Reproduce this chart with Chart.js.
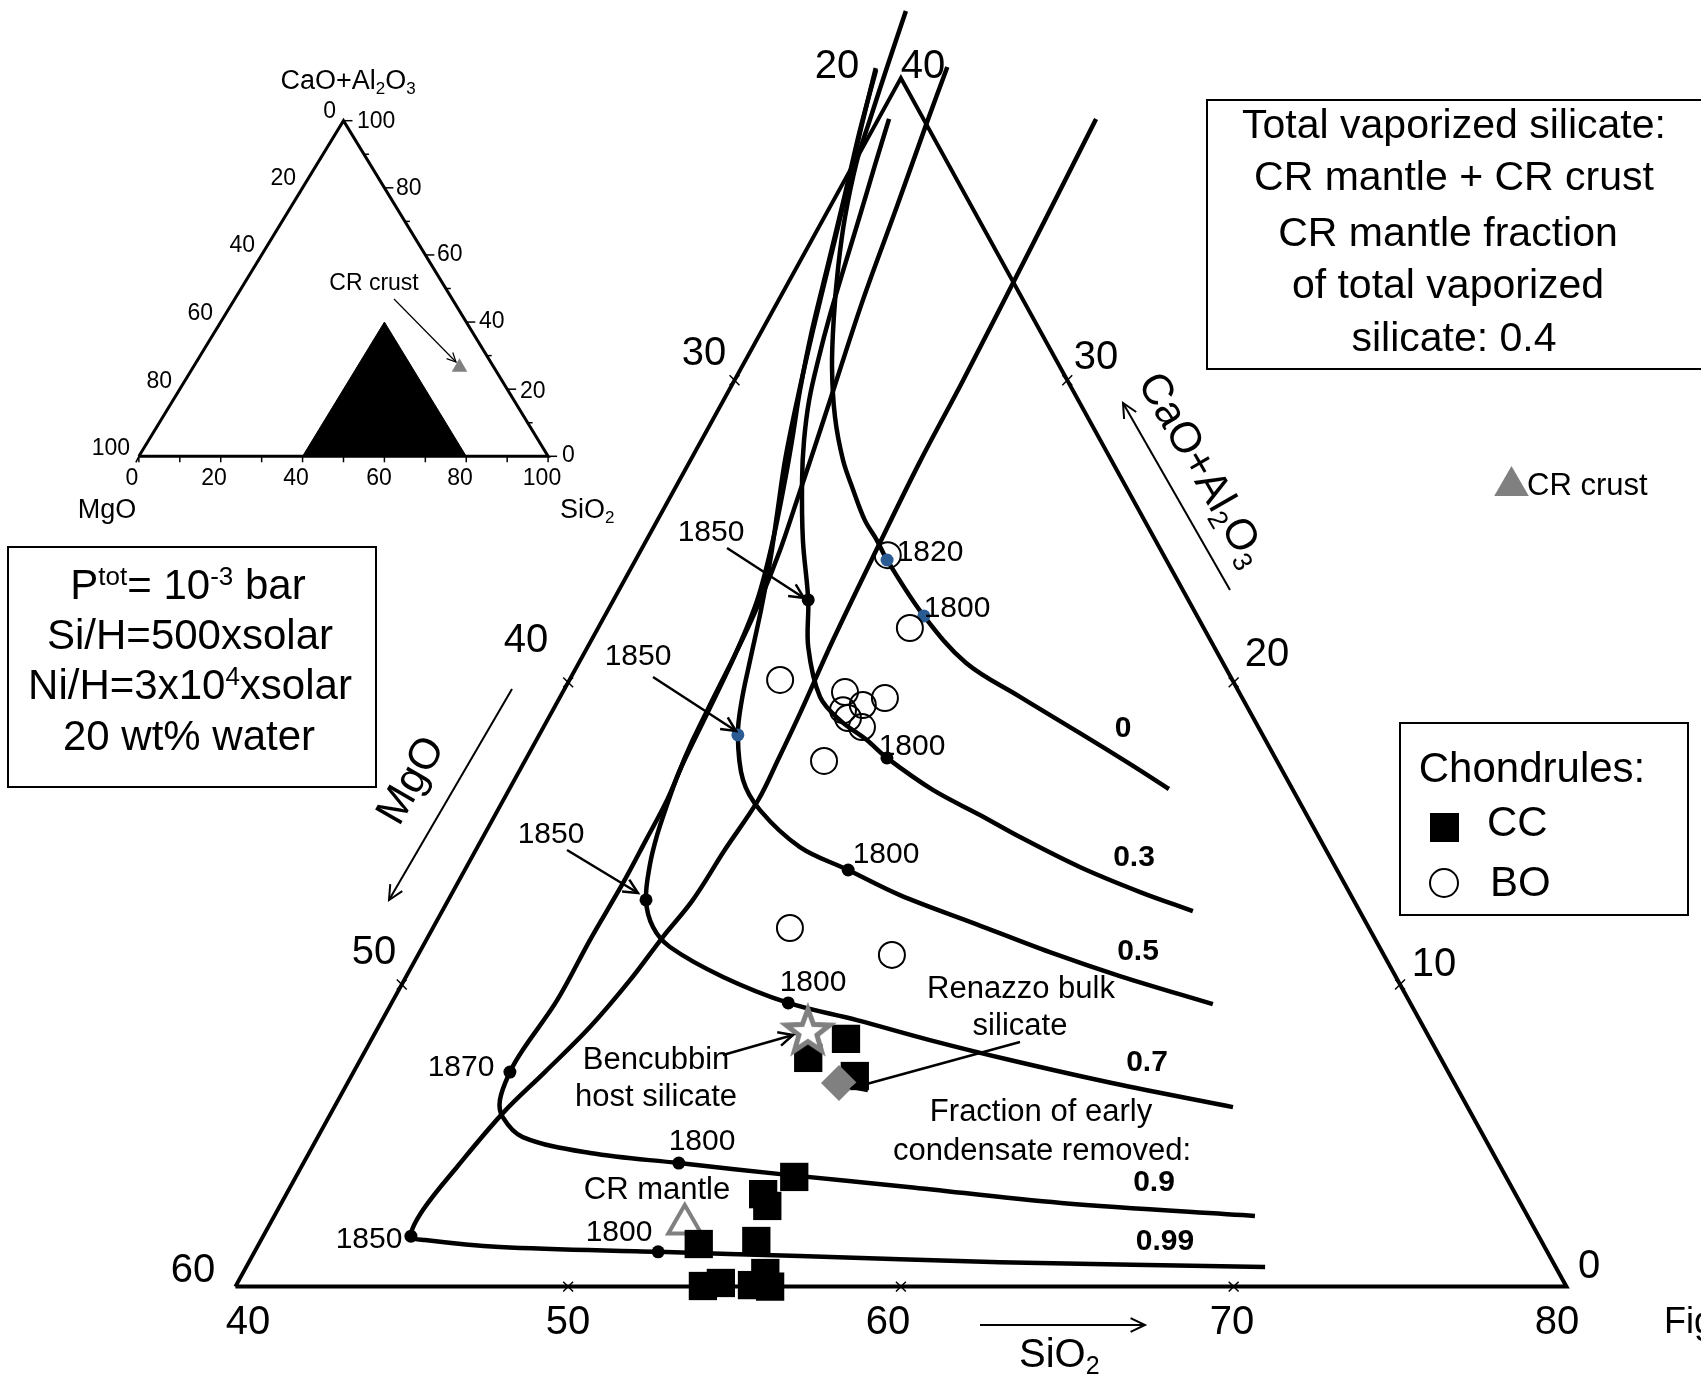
<!DOCTYPE html>
<html>
<head>
<meta charset="utf-8">
<title>Condensation paths in CaO+Al2O3 - MgO - SiO2</title>
<script src="https://cdn.jsdelivr.net/npm/chart.js@4.4.1/dist/chart.umd.min.js"></script>
<style>
  html, body { margin: 0; padding: 0; background: #fff; overflow: hidden; }
  canvas { display: block; }
</style>
</head>
<body>
<canvas id="myChart" width="1701" height="1383"></canvas>
<script>
var H = Math.sqrt(3) / 2;

// all compositions are wt% [SiO2, CaO+Al2O3]; MgO is the rest
var frame = [[40, 0], [80, 0], [40, 40], [40, 0]];
var frameTicks = [[50, 0], [60, 0], [70, 0], [40, 10], [40, 20], [40, 30], [70, 10], [60, 20], [50, 30]];

// condensation paths, by fraction of early condensate removed
var fractions = ['0', '0.3', '0.5', '0.7', '0.9', '0.99'];
var path0 = [[39.04,42.22],[39.40,40.37],[39.76,38.61],[40.04,37.29],[40.62,35.40],[41.24,33.75],[41.94,32.09],[42.71,30.44],[43.63,28.78],[44.58,27.36],[45.38,26.37],[46.23,25.37],[46.92,24.71],[47.56,24.05],[49.59,22.20],[51.64,20.64],[53.82,19.52],[56.22,18.32],[58.23,17.30],[59.82,16.47]];
var path03 = [[40.32,38.65],[40.66,37.12],[41.04,35.47],[41.41,33.81],[41.79,32.16],[42.18,30.67],[42.57,29.35],[43.08,28.02],[43.68,26.70],[44.70,24.71],[45.85,22.73],[46.63,21.17],[47.81,19.52],[48.79,18.75],[49.93,18.09],[50.83,17.50],[52.74,16.44],[54.57,15.61],[56.14,14.88],[58.43,13.89],[60.66,13.06],[62.56,12.43]];
var path05 = [[39.08,40.33],[39.60,38.45],[40.18,36.46],[40.88,33.98],[41.53,31.66],[42.21,29.35],[42.84,27.36],[43.48,25.61],[44.05,24.05],[44.60,22.39],[45.10,20.74],[45.51,19.42],[45.97,18.26],[46.87,16.77],[47.88,15.77],[49.69,14.55],[51.52,13.79],[53.49,12.96],[56.26,12.00],[58.94,11.07],[61.44,10.28],[64.70,9.35]];
var path07 = [[41.21,40.37],[41.52,38.51],[42.01,35.73],[42.53,32.66],[43.20,29.35],[43.57,27.52],[43.86,26.04],[44.18,24.38],[44.41,22.73],[44.54,21.24],[44.62,19.58],[44.70,18.09],[44.83,16.93],[45.00,15.94],[45.20,14.95],[45.48,13.95],[45.94,12.80],[46.60,11.90],[47.44,11.24],[49.53,10.25],[51.92,9.39],[54.27,8.82],[56.79,8.16],[59.53,7.50],[62.97,6.74],[67.01,5.94]];
var path09 = [[39.12,40.27],[39.63,38.28],[40.25,36.13],[40.90,33.81],[41.50,31.66],[42.13,29.68],[42.72,28.02],[43.17,26.70],[43.80,24.71],[44.32,22.73],[44.56,20.91],[44.69,19.02],[44.79,17.33],[44.92,16.11],[44.95,14.72],[44.97,13.36],[44.92,11.47],[44.93,9.49],[44.72,7.83],[44.70,7.10],[44.86,6.18],[45.23,5.61],[46.16,4.95],[48.45,4.42],[51.28,4.09],[54.82,3.69],[58.56,3.30],[63.43,2.77],[69.47,2.34]];
var path099 = [[46.54,38.65],[46.72,34.31],[46.87,30.01],[46.92,27.29],[47.06,24.61],[47.26,21.40],[47.48,18.99],[47.59,17.43],[47.66,16.11],[47.48,14.45],[47.35,12.80],[47.06,11.57],[46.79,10.15],[46.36,8.59],[45.75,7.10],[45.17,5.75],[44.68,3.96],[44.37,2.54],[44.44,1.67],[44.93,1.54],[47.29,1.31],[52.13,1.15],[56.46,1.01],[62.57,0.81],[70.62,0.65]];

// temperature marks (K) on the paths
var tempsBlack = [[45.85,22.73],[50.83,17.50],[51.52,13.79],[45.94,12.80],[51.92,9.39],[44.70,7.10],[51.28,4.09],[44.44,1.67],[52.13,1.15]];
var tempsBlue = [[47.56,24.05],[49.59,22.20],[45.97,18.26]];

// chondrules and bulk compositions
var boChondrules = [[47.50,24.21],[49.37,21.80],[46.33,20.08],[48.48,19.68],[49.78,19.48],[49.23,19.25],[48.72,19.08],[49.00,18.82],[49.57,18.52],[48.99,17.40],[50.73,11.87],[54.24,10.98]];
var ccChondrules = [[54.25,8.20],[53.43,7.57],[55.13,6.97],[54.98,3.63],[54.33,3.06],[54.65,2.67],[53.22,1.41],[54.90,1.51],[54.04,0.02],[54.53,0.12],[55.50,0.05],[55.70,0.45],[56.07,0.00]];
var bencubbinHost = [[52.96, 8.49]];
var renazzoBulk = [[54.77, 6.74]];
var crMantle = [[52.47, 2.07]];
var crCrust = [[65.1, 26.5]];

// inset: the whole ternary
var insetFrame = [[0, 0], [100, 0], [0, 100], [0, 0]];
var insetWindow = [[40, 0], [40, 40], [80, 0]];
var insetTicks = ['0', '20', '40', '60', '80', '100'];

// tick labels of the main triangle
var sio2Ticks = ['40', '50', '60', '70', '80'];
var mgoTicks = ['60', '50', '40', '30', '20'];
var caoTicks = ['0', '10', '20', '30', '40'];
var tempText = ['1820', '1800', '1850', '1800', '1850', '1800', '1850', '1800', '1870', '1800', '1850', '1800'];

// ---- layout ----
var FONT = "'Liberation Sans', Arial, Helvetica, sans-serif";
var ink = '#000000', grey = '#808080', blue = '#2b5b93';

var sio2TickPos = [[248,1323],[568,1323],[888,1323],[1232,1323],[1557,1323]];
var mgoTickPos = [[193,1271],[374,953],[526,641],[704,354],[837,67]];
var caoTickPos = [[1589,1267],[1434,965],[1267,655],[1096,358],[923,67]];
var tempPos = [[930,553],[957,609],[711,533],[912,747],[638,657],[886,855],[551,835],[813,983],[461,1068],[702,1142],[369,1240],[619,1233]];
var fractionPos = [[1123,729],[1134,858],[1138,952],[1147,1063],[1154,1183],[1165,1242]];
var insetBottomPos = [132, 214, 296, 379, 460, 542];
var insetLeftPos = [[336,112],[296,179],[255,246],[213,314],[172,382],[130,449]];
var insetRightPos = [[562,456],[520,392],[479,322],[437,255],[396,189],[357,122]];

function toXY(list) {
    return list.map(function (p) { return { x: p[0] + p[1] / 2, y: p[1] * H }; });
}

function pathSet(list) {
    return { data: toXY(list), showLine: true, borderColor: ink, borderWidth: 4.5,
             tension: 0.35, pointRadius: 0, order: 20 };
}

// open grey star for the Bencubbin host silicate
var starImg = document.createElement('canvas');
starImg.width = 80; starImg.height = 80;
(function () {
    var c = starImg.getContext('2d');
    c.beginPath();
    for (var i = 0; i < 10; i++) {
        var r = i % 2 ? 9.5 : 23, a = -Math.PI / 2 + i * Math.PI / 5;
        c.lineTo(40 + r * Math.cos(a), 42 + r * Math.sin(a));
    }
    c.closePath();
    c.fillStyle = '#fff';
    c.fill();
    c.lineWidth = 5;
    c.strokeStyle = grey;
    c.stroke();
})();

function rich(ctx, parts, x, y, size, align, bold) {
    var weight = bold ? 'bold ' : '';
    var runs = parts.map(function (p) {
        if (typeof p === 'string') p = [p, 0];
        var fs = p[1] ? Math.round(size * 0.62) : size;
        ctx.font = weight + fs + 'px ' + FONT;
        return { t: p[0], s: p[1], fs: fs, w: ctx.measureText(p[0]).width };
    });
    var total = runs.reduce(function (a, r) { return a + r.w; }, 0);
    var cx = align === 'left' ? x : (align === 'right' ? x - total : x - total / 2);
    ctx.textAlign = 'left';
    ctx.textBaseline = 'middle';
    runs.forEach(function (r) {
        ctx.font = weight + r.fs + 'px ' + FONT;
        var dy = r.s > 0 ? -0.22 * size : (r.s < 0 ? 0.27 * size : 0);
        ctx.fillText(r.t, cx, y + dy);
        cx += r.w;
    });
}

function richRot(ctx, parts, x, y, size, deg) {
    ctx.save();
    ctx.translate(x, y);
    ctx.rotate(deg * Math.PI / 180);
    rich(ctx, parts, 0, 0, size, 'center');
    ctx.restore();
}

function seg(ctx, x1, y1, x2, y2) {
    ctx.beginPath();
    ctx.moveTo(x1, y1);
    ctx.lineTo(x2, y2);
    ctx.stroke();
}

function arrow(ctx, a, b, w, head) {
    ctx.lineWidth = w;
    seg(ctx, a[0], a[1], b[0], b[1]);
    var ang = Math.atan2(b[1] - a[1], b[0] - a[0]);
    ctx.beginPath();
    ctx.moveTo(b[0] - head * Math.cos(ang - 0.45), b[1] - head * Math.sin(ang - 0.45));
    ctx.lineTo(b[0], b[1]);
    ctx.lineTo(b[0] - head * Math.cos(ang + 0.45), b[1] - head * Math.sin(ang + 0.45));
    ctx.stroke();
}

var overlay = {
    id: 'overlay',
    afterDraw: function (chart) {
        var ctx = chart.ctx;
        var xi = chart.scales.xi, yi = chart.scales.yi;
        function ip(s, c) { return [xi.getPixelForValue(s + c / 2), yi.getPixelForValue(c * H)]; }
        ctx.save();
        ctx.fillStyle = ink;
        ctx.strokeStyle = ink;
        ctx.lineCap = 'butt';

        // inset ticks and labels
        ctx.lineWidth = 1.5;
        for (var v = 0; v <= 100; v += 10) {
            var b = ip(v, 0), r = ip(100 - v, v), l = ip(0, v);
            seg(ctx, b[0], b[1], b[0], b[1] + 6);
            seg(ctx, r[0], r[1], r[0] + (v % 20 ? 5 : 9), r[1]);
            seg(ctx, l[0], l[1], l[0] - 3, l[1] + 6);
        }
        insetTicks.forEach(function (t, i) {
            rich(ctx, [t], insetBottomPos[i], 479, 23, 'center');
            rich(ctx, [t], insetLeftPos[i][0], insetLeftPos[i][1], 23, 'right');
            rich(ctx, [t], insetRightPos[i][0], insetRightPos[i][1], 23, 'left');
        });
        rich(ctx, ['CaO+Al', ['2', -1], 'O', ['3', -1]], 348, 82, 27, 'center');
        rich(ctx, ['MgO'], 107, 511, 27, 'center');
        rich(ctx, ['SiO', ['2', -1]], 560, 511, 27, 'left');
        rich(ctx, ['CR crust'], 374, 284, 23, 'center');
        arrow(ctx, [394, 299], [456, 362], 1.2, 10);

        // main tick labels
        sio2Ticks.forEach(function (t, i) { rich(ctx, [t], sio2TickPos[i][0], sio2TickPos[i][1], 40, 'center'); });
        mgoTicks.forEach(function (t, i) { rich(ctx, [t], mgoTickPos[i][0], mgoTickPos[i][1], 40, 'center'); });
        caoTicks.forEach(function (t, i) { rich(ctx, [t], caoTickPos[i][0], caoTickPos[i][1], 40, 'center'); });

        // axis titles
        rich(ctx, ['SiO', ['2', -1]], 1019, 1356, 40, 'left');
        richRot(ctx, ['MgO'], 412, 781, 43, -60);
        richRot(ctx, ['CaO+Al', ['2', -1], 'O', ['3', -1]], 1201, 470, 43, 60);
        arrow(ctx, [980, 1325], [1145, 1325], 2, 16);
        arrow(ctx, [512, 689], [389, 900], 2, 16);
        arrow(ctx, [1230, 590], [1123, 403], 2, 16);
        rich(ctx, ['Fig'], 1664, 1323, 36, 'left');

        // temperatures and path labels
        tempText.forEach(function (t, i) { rich(ctx, [t], tempPos[i][0], tempPos[i][1], 30, 'center'); });
        fractions.forEach(function (t, i) { rich(ctx, [t], fractionPos[i][0], fractionPos[i][1], 30, 'center', true); });
        arrow(ctx, [727, 548], [804, 598], 2.5, 16);
        arrow(ctx, [653, 677], [736, 731], 2.5, 16);
        arrow(ctx, [567, 850], [638, 893], 2.5, 16);

        // annotations
        rich(ctx, ['Bencubbin'], 656, 1060, 31, 'center');
        rich(ctx, ['host silicate'], 656, 1097, 31, 'center');
        arrow(ctx, [723, 1055], [793, 1035], 2.5, 16);
        rich(ctx, ['Renazzo bulk'], 1021, 989, 31, 'center');
        rich(ctx, ['silicate'], 1020, 1026, 31, 'center');
        arrow(ctx, [1020, 1042], [852, 1088], 2.5, 16);
        rich(ctx, ['Fraction of early'], 1041, 1112, 31, 'center');
        rich(ctx, ['condensate removed:'], 1042, 1151, 31, 'center');
        rich(ctx, ['CR mantle'], 657, 1190, 31, 'center');
        rich(ctx, ['CR crust'], 1527, 486, 31, 'left');

        // boxes
        ctx.lineWidth = 2;
        ctx.strokeRect(1207, 100, 520, 269);
        rich(ctx, ['Total vaporized silicate:'], 1454, 127, 41, 'center');
        rich(ctx, ['CR mantle + CR crust'], 1454, 179, 41, 'center');
        rich(ctx, ['CR mantle fraction'], 1448, 235, 41, 'center');
        rich(ctx, ['of total vaporized'], 1448, 287, 41, 'center');
        rich(ctx, ['silicate: 0.4'], 1454, 340, 41, 'center');

        ctx.strokeRect(8, 547, 368, 240);
        rich(ctx, ['P', ['tot', 1], '= 10', ['-3', 1], ' bar'], 188, 587, 42, 'center');
        rich(ctx, ['Si/H=500xsolar'], 190, 637, 42, 'center');
        rich(ctx, ['Ni/H=3x10', ['4', 1], 'xsolar'], 190, 687, 42, 'center');
        rich(ctx, ['20 wt% water'], 189, 738, 42, 'center');

        ctx.strokeRect(1400, 723, 288, 192);
        rich(ctx, ['Chondrules:'], 1532, 770, 42, 'center');
        ctx.fillRect(1430, 813, 29, 29);
        rich(ctx, ['CC'], 1487, 824, 42, 'left');
        ctx.beginPath();
        ctx.arc(1444, 883, 14, 0, Math.PI * 2);
        ctx.stroke();
        rich(ctx, ['BO'], 1490, 884, 42, 'left');

        ctx.restore();
    }
};

var datasets = [
    { data: toXY(frame), showLine: true, borderColor: ink, borderWidth: 4, pointRadius: 0, order: 30 },
    pathSet(path0), pathSet(path03), pathSet(path05), pathSet(path07), pathSet(path09), pathSet(path099),
    { data: toXY(frameTicks), pointStyle: 'crossRot', pointRadius: 7, pointBorderWidth: 1.5,
      pointBorderColor: ink, order: 15 },
    { data: toXY(tempsBlack), pointRadius: 6.5, pointBackgroundColor: ink, pointBorderWidth: 0, order: 10 },
    { data: toXY(tempsBlue), pointRadius: 6.5, pointBackgroundColor: blue, pointBorderWidth: 0, order: 10 },
    { data: toXY(boChondrules), pointRadius: 13, pointBorderWidth: 2, pointBorderColor: ink,
      pointBackgroundColor: 'rgba(255,255,255,0)', order: 9 },
    { data: toXY(crMantle), pointStyle: 'triangle', pointRadius: 19, pointBorderWidth: 4,
      pointBorderColor: grey, pointBackgroundColor: 'rgba(255,255,255,0)', order: 8 },
    { data: toXY(ccChondrules), pointStyle: 'rect', pointRadius: 20, pointBorderWidth: 0,
      pointBackgroundColor: ink, order: 7 },
    { data: toXY(bencubbinHost), pointStyle: starImg, order: 5 },
    { data: toXY(renazzoBulk), pointStyle: 'rectRot', pointRadius: 18, pointBorderWidth: 0,
      pointBackgroundColor: grey, order: 5 },
    { data: toXY(crCrust), pointStyle: 'triangle', pointRadius: 20, pointBorderWidth: 0,
      pointBackgroundColor: grey, order: 5 },
    // inset
    { data: toXY(insetWindow), xAxisID: 'xi', yAxisID: 'yi', showLine: true, fill: 'origin',
      backgroundColor: ink, borderColor: ink, borderWidth: 1, pointRadius: 0, order: 6 },
    { data: toXY(insetFrame), xAxisID: 'xi', yAxisID: 'yi', showLine: true, borderColor: ink,
      borderWidth: 3, pointRadius: 0, order: 6 },
    { data: toXY(crCrust), xAxisID: 'xi', yAxisID: 'yi', pointStyle: 'triangle', pointRadius: 9,
      pointBorderWidth: 0, pointBackgroundColor: grey, order: 5 }
];

var ctx = document.getElementById('myChart').getContext('2d');
var myChart = new Chart(ctx, {
    type: 'scatter',
    data: { datasets: datasets },
    options: {
        responsive: false,
        animation: false,
        devicePixelRatio: 1,
        events: [],
        layout: { padding: 0, autoPadding: false },
        plugins: { legend: { display: false }, tooltip: { enabled: false } },
        scales: {
            x: { type: 'linear', display: false, min: 32.926, max: 84.045 },
            y: { type: 'linear', display: false, min: -2.763, max: 36.880 },
            xi: { type: 'linear', axis: 'x', display: false, min: -33.94, max: 381.74 },
            yi: { type: 'linear', axis: 'y', display: false, min: -239.14, max: 117.75 }
        }
    },
    plugins: [overlay]
});
</script>
</body>
</html>
